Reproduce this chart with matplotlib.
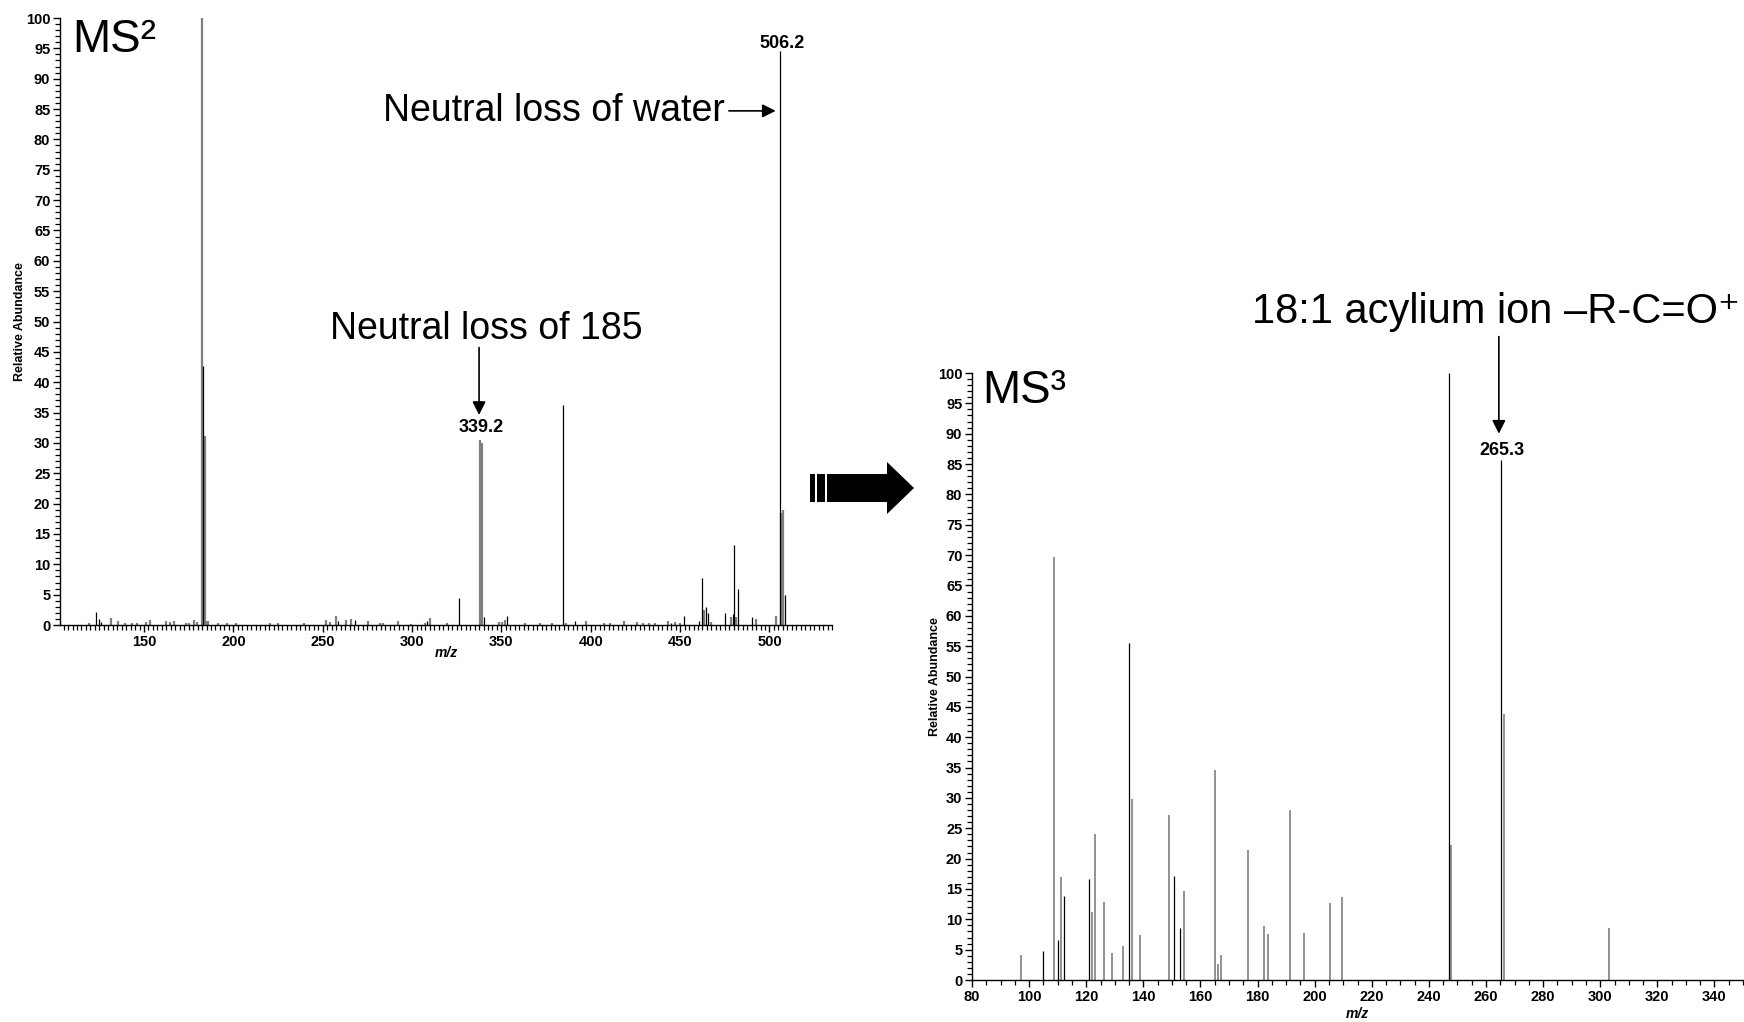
import numpy as np
import matplotlib
matplotlib.use("Agg")
import matplotlib.pyplot as plt
from matplotlib.patches import Polygon, Rectangle
from matplotlib.ticker import MultipleLocator

plt.rcParams['font.family'] = ['Liberation Sans', 'DejaVu Sans']

# MS2 spectrum (m/z, relative abundance) - profile peaks drawn grey, centroid-like peaks black
ms2_grey_mz = [119.4, 131.3, 135.3, 139.4, 143.1, 145.9, 150.9, 153.4, 162.1, 164.6, 167.0, 173.3,
               175.4, 178.2, 179.5, 182.4, 184.0, 185.0, 185.6, 191.6, 196.3, 201.5, 220.5, 225.2,
               239.6, 251.7, 254.1, 257.5, 263.1, 265.7, 275.6, 281.8, 284.0, 292.0, 299.3, 307.3,
               310.1, 319.8, 337.8, 339.1, 348.4, 350.3, 351.8, 363.4, 371.7, 378.3, 386.3, 397.3,
               407.6, 411.0, 418.4, 425.8, 429.2, 432.4, 435.8, 443.5, 447.3, 450.1, 463.2, 467.5,
               478.5, 481.3, 492.3, 503.7, 506.4, 507.5]
ms2_grey_int = [0.4, 1.2, 0.7, 0.4, 0.4, 0.4, 0.5, 0.8, 0.7, 0.5, 0.7, 0.4,
                0.4, 0.9, 0.5, 100.0, 31.2, 0.7, 0.7, 0.4, 0.4, 0.3, 0.3, 0.4,
                0.4, 0.8, 0.5, 1.5, 0.8, 1.0, 0.7, 0.3, 0.3, 0.7, 0.2, 0.4,
                1.2, 0.4, 30.5, 30.0, 0.5, 0.5, 0.8, 0.3, 0.3, 0.4, 0.4, 0.7,
                0.4, 0.4, 0.6, 0.5, 0.4, 0.4, 0.4, 0.7, 0.5, 0.4, 2.5, 0.5,
                1.4, 1.4, 1.0, 1.5, 18.5, 18.9]
ms2_black_mz = [123.1, 125.0, 125.9, 183.1, 258.8, 267.8, 308.6, 326.1, 340.0, 353.1, 384.4, 391.3,
                444.9, 452.0, 460.4, 462.4, 464.3, 465.4, 475.1, 479.4, 480.3, 482.2, 490.0, 505.7, 508.5]
ms2_black_int = [2.2, 1.0, 0.5, 42.6, 0.7, 0.9, 0.7, 4.4, 1.3, 1.5, 36.3, 0.7,
                 0.4, 1.5, 0.7, 7.8, 2.9, 1.9, 1.9, 1.8, 13.2, 5.9, 1.4, 94.5, 5.0]

# MS3 spectrum
ms3_grey_mz = [97.1, 108.8, 111.0, 122.0, 122.9, 126.4, 129.0, 132.8, 136.2, 139.0, 148.9, 154.2,
               165.0, 166.3, 167.1, 176.8, 182.1, 183.8, 191.2, 196.1, 205.3, 209.5, 247.8, 266.2, 302.9]
ms3_grey_int = [4.1, 69.7, 17.0, 11.2, 24.0, 12.9, 4.4, 5.6, 29.8, 7.4, 27.2, 14.6,
                34.6, 2.6, 4.1, 21.4, 8.9, 7.5, 28.0, 7.7, 12.7, 13.7, 22.3, 43.8, 8.5]
ms3_black_mz = [104.9, 110.2, 112.3, 121.0, 135.0, 150.8, 152.9, 247.0, 265.2]
ms3_black_int = [4.7, 6.6, 13.8, 16.7, 55.6, 17.2, 8.6, 100.0, 85.6]

W, H = 1744, 1022
fig = plt.figure(figsize=(W / 100, H / 100), dpi=100)
fig.patch.set_facecolor('white')

ax1 = fig.add_axes([60 / W, 1 - 625 / H, 772 / W, 607 / H])
ax2 = fig.add_axes([972 / W, 1 - 980 / H, 771 / W, 607 / H])


def style_axis(ax, xlim, xticks, xminor):
    ax.set_xlim(*xlim)
    ax.set_ylim(0, 100)
    ax.spines['top'].set_visible(False)
    ax.spines['right'].set_visible(False)
    ax.spines['left'].set_linewidth(1.0)
    ax.spines['bottom'].set_linewidth(1.0)
    ax.set_yticks(np.arange(0, 101, 5))
    ax.set_yticklabels([str(v) for v in range(0, 101, 5)], fontweight='bold', fontsize=10.5)
    ax.set_xticks(xticks)
    ax.set_xticklabels([str(v) for v in xticks], fontweight='bold', fontsize=10.5)
    ax.yaxis.set_minor_locator(MultipleLocator(1))
    ax.xaxis.set_minor_locator(MultipleLocator(xminor))
    ax.tick_params(which='major', direction='out', length=5, width=1, pad=2)
    ax.tick_params(which='minor', direction='out', length=3.3, width=0.9)
    ax.set_ylabel('Relative Abundance', fontweight='bold', fontsize=9)
    ax.set_xlabel('m/z', fontweight='bold', fontstyle='italic', fontsize=10)


style_axis(ax1, (103, 535), [150, 200, 250, 300, 350, 400, 450, 500], 2.5)
style_axis(ax2, (80, 350), list(range(80, 341, 20)), 5)
ax1.yaxis.set_label_coords(-0.0436, 0.5)
ax1.xaxis.set_label_coords(0.5, -0.035)
ax2.yaxis.set_label_coords(-0.0403, 0.5)
ax2.xaxis.set_label_coords(0.5, -0.0445)

ax1.vlines(ms2_grey_mz, 0, ms2_grey_int, colors='#7f7f7f', linewidth=1.6)
ax1.vlines(ms2_black_mz, 0, ms2_black_int, colors='black', linewidth=0.9)
ax2.vlines(ms3_grey_mz, 0, ms3_grey_int, colors='#7f7f7f', linewidth=1.2)
ax2.vlines(ms3_black_mz, 0, ms3_black_int, colors='black', linewidth=0.9)

# panel titles
ax1.text(0.0155, 0.9445, 'MS²', transform=ax1.transAxes, fontsize=33, va='baseline', ha='left')
ax2.text(0.013, 0.9506, 'MS³', transform=ax2.transAxes, fontsize=33, va='baseline', ha='left')

# annotations MS2
ax1.text(507.0, 95.8, '506.2', fontweight='bold', fontsize=13, ha='center', va='center')
ax1.annotate('Neutral loss of water', xy=(503.5, 84.7), xytext=(475, 84.7),
             fontsize=27, ha='right', va='center',
             arrowprops=dict(arrowstyle='-|>', color='black', lw=1.2, mutation_scale=20,
                             shrinkA=1, shrinkB=0))
ax1.text(341.7, 48.8, 'Neutral loss of 185', fontsize=27, ha='center', va='center')
ax1.annotate('', xy=(337.5, 34.6), xytext=(337.5, 45.7),
             arrowprops=dict(arrowstyle='-|>', color='black', lw=1.2, mutation_scale=20,
                             shrinkA=0, shrinkB=0))
ax1.text(338.9, 32.6, '339.2', fontweight='bold', fontsize=13, ha='center', va='center')

# annotations MS3
ax2.text(0.679, 1.0997, '18:1 acylium ion –R-C=O⁺', transform=ax2.transAxes,
         fontsize=30, ha='center', va='center', clip_on=False)
ax2.annotate('', xy=(264.5, 90.0), xytext=(264.5, 106.0), annotation_clip=False,
             arrowprops=dict(arrowstyle='-|>', color='black', lw=1.2, mutation_scale=20,
                             shrinkA=0, shrinkB=0))
ax2.text(265.6, 87.3, '265.3', fontweight='bold', fontsize=13, ha='center', va='center')


# big block arrow between the panels (pixel coords -> figure fraction)
def fx(px):
    return px / W


def fy(py):
    return 1 - py / H


for x0, x1 in [(810, 815), (817, 825)]:
    fig.patches.append(Rectangle((fx(x0), fy(502)), fx(x1) - fx(x0), fy(474) - fy(502),
                                 transform=fig.transFigure, facecolor='black',
                                 edgecolor='none', linewidth=0, figure=fig))
arrow_pts = [(827, 474), (887, 474), (887, 462), (914, 488), (887, 514),
             (887, 502), (827, 502)]
fig.patches.append(Polygon([(fx(x), fy(y)) for x, y in arrow_pts], closed=True,
                           transform=fig.transFigure, facecolor='black',
                           edgecolor='none', linewidth=0, figure=fig))

fig.savefig('out.png', dpi=100, facecolor='white')
